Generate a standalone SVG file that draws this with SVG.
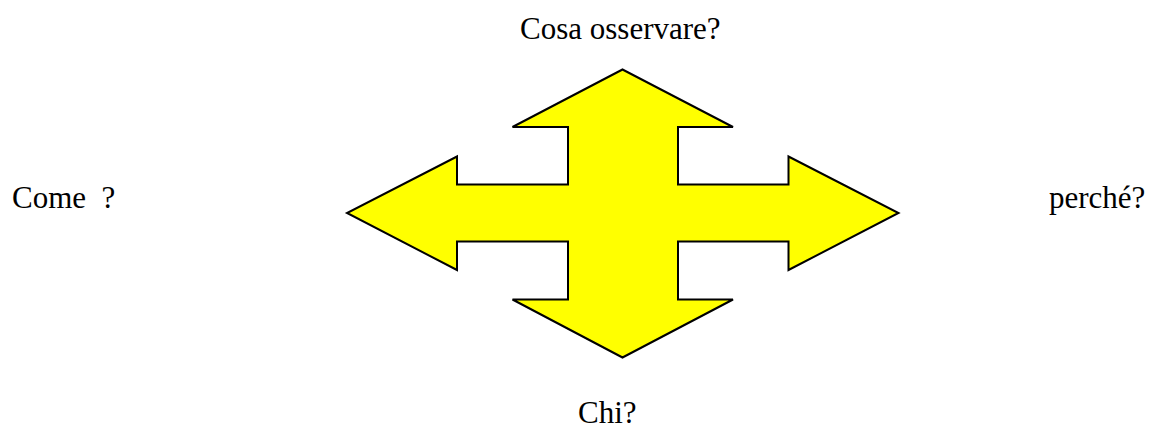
<svg xmlns="http://www.w3.org/2000/svg" width="1151" height="430" viewBox="0 0 1151 430">
<style>
.lbl{font-family:"Liberation Serif","Times New Roman",serif;font-size:31px;fill:#000}
.arrow{fill:#ffff00;stroke:#000;stroke-width:2;stroke-linejoin:miter}
</style>
<rect width="1151" height="430" fill="#fff"/>
<g id="cross-arrow">
<path class="arrow" d="M622.5,69.5 L733,127 L678,127 L678,184.5 L788.5,184.5 L788.5,156.5 L898.5,213 L788.5,270 L788.5,241.5 L678,241.5 L678,299.5 L733,299.5 L622.5,357.5 L512.5,299.5 L568,299.5 L568,241.5 L457,241.5 L457,270 L347,213 L457,156.5 L457,184.5 L568,184.5 L568,127 L512.5,127 Z"/>
</g>
<g id="label-top"><text class="lbl" x="520" y="39">Cosa osservare?</text></g>
<g id="label-left"><text class="lbl" x="12" y="207.5" xml:space="preserve">Come  ?</text></g>
<g id="label-right"><text class="lbl" x="1049" y="208">perché?</text></g>
<g id="label-bottom"><text class="lbl" x="578" y="423">Chi?</text></g>
</svg>
